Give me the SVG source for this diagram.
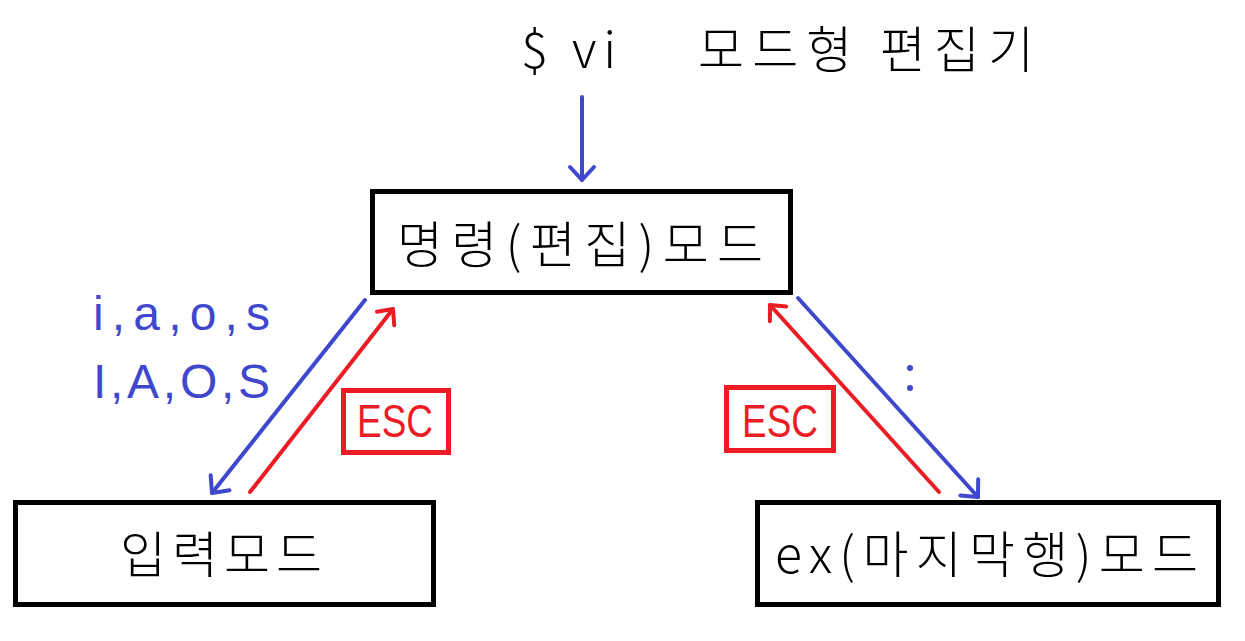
<svg xmlns="http://www.w3.org/2000/svg" width="1245" height="641" viewBox="0 0 1245 641">
<defs>
<style>
.box{fill:#fff;stroke:#000;stroke-width:5}
.kr{font-family:"Noto Sans CJK KR","Liberation Sans",sans-serif;font-size:50px;font-weight:300;fill:#000}
.lbl{font-family:"Liberation Sans","Noto Sans CJK KR",sans-serif;font-size:48px;fill:#3f48cc}
.esc{fill:none;stroke:#ed1c24;stroke-width:5}
.esct{font-family:"Liberation Sans",sans-serif;font-size:47px;fill:#ed1c24}
.b{stroke:#3f48cc;stroke-width:4;fill:none;stroke-linecap:round}
.r{stroke:#ed1c24;stroke-width:4;fill:none;stroke-linecap:round}
</style>
<marker id="hb" markerUnits="userSpaceOnUse" markerWidth="40" markerHeight="40" viewBox="-20 -20 40 40" refX="0" refY="0" orient="auto">
<path d="M-13,-12 L0,0 L-13,12" fill="none" stroke="#3f48cc" stroke-width="4" stroke-linecap="round" stroke-linejoin="round"/>
</marker>
<marker id="hr" markerUnits="userSpaceOnUse" markerWidth="40" markerHeight="40" viewBox="-20 -20 40 40" refX="0" refY="0" orient="auto">
<path d="M-12,-11 L0,0 L-12,11" fill="none" stroke="#ed1c24" stroke-width="4" stroke-linecap="round" stroke-linejoin="round"/>
</marker>
</defs>
<rect width="1245" height="641" fill="#fff"/>
<g id="title">
<text class="kr" y="68"><tspan x="521" textLength="95" lengthAdjust="spacing">$ vi</tspan><tspan x="698" textLength="336" lengthAdjust="spacing">모드형 편집기</tspan></text>
</g>
<g id="connectors">
<line class="b" x1="582" y1="97" x2="582" y2="180" marker-end="url(#hb)"/>
<line class="b" x1="365" y1="300" x2="212" y2="493" marker-end="url(#hb)"/>
<line class="r" x1="250" y1="492" x2="393" y2="309" marker-end="url(#hr)"/>
<line class="b" x1="798" y1="298" x2="978" y2="497" marker-end="url(#hb)"/>
<line class="r" x1="939" y1="492" x2="770" y2="305" marker-end="url(#hr)"/>
</g>
<g id="labels">
<text class="lbl" x="93" y="330" textLength="177" lengthAdjust="spacing">i,a,o,s</text>
<text class="lbl" x="93" y="398" textLength="177" lengthAdjust="spacing">I,A,O,S</text>
<circle cx="910" cy="368" r="3" fill="#3f48cc"/>
<circle cx="910" cy="388" r="3" fill="#3f48cc"/>
</g>
<g id="esc-left">
<rect class="esc" x="343.5" y="390.5" width="105" height="62"/>
<text class="esct" x="357" y="437" textLength="76" lengthAdjust="spacingAndGlyphs">ESC</text>
</g>
<g id="esc-right">
<rect class="esc" x="726.5" y="387.5" width="107" height="63"/>
<text class="esct" x="742" y="437" textLength="76" lengthAdjust="spacingAndGlyphs">ESC</text>
</g>
<g id="command-mode">
<rect class="box" x="372.5" y="191.5" width="418" height="101"/>
<text class="kr" x="397" y="263" textLength="366" lengthAdjust="spacing">명령(편집)모드</text>
</g>
<g id="input-mode">
<rect class="box" x="15.5" y="502.5" width="418" height="102"/>
<text class="kr" x="120" y="573" textLength="202" lengthAdjust="spacing">입력모드</text>
</g>
<g id="ex-mode">
<rect class="box" x="757.5" y="502.5" width="461" height="102"/>
<text class="kr" x="775" y="573" textLength="423" lengthAdjust="spacing">ex(마지막행)모드</text>
</g>
</svg>
